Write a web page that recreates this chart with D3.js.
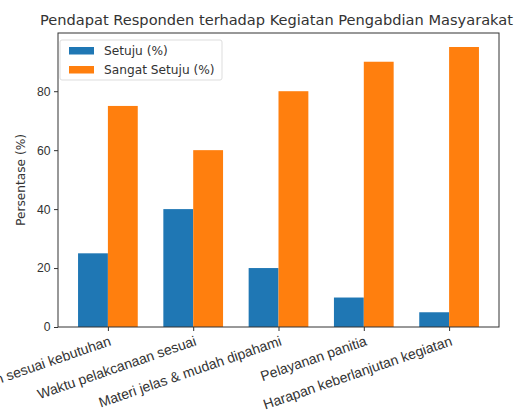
<!DOCTYPE html>
<html>
<head>
<meta charset="utf-8">
<script src="https://cdn.jsdelivr.net/npm/d3@7"></script>
<style>
  body { margin: 0; background: #fff; }
  svg { font-family: "DejaVu Sans", sans-serif; }
</style>
</head>
<body>
<svg id="chart" width="529" height="414"></svg>
<script>
// data
const categories = [
  "Kegiatan sesuai kebutuhan",
  "Waktu pelakcanaan sesuai",
  "Materi jelas & mudah dipahami",
  "Pelayanan panitia",
  "Harapan keberlanjutan kegiatan"
];
const setuju = [25, 40, 20, 10, 5];
const sangatSetuju = [75, 60, 80, 90, 95];
const seriesNames = ["Setuju (%)", "Sangat Setuju (%)"];
const yTicks = [0, 20, 40, 60, 80];

const colors = ["#1f77b4", "#ff7f0e"];
const svg = d3.select("#chart");

// axes box (pixels)
const axL = 58, axR = 499, axT = 33, axB = 327;
const barW = 0.35;

// linear x like matplotlib, with 5% margins
const xmin = -barW, xmax = categories.length - 1 + barW;
const pad = (xmax - xmin) * 0.05;
const x = d3.scaleLinear().domain([xmin - pad, xmax + pad]).range([axL, axR]);
const ymax = d3.max(sangatSetuju.concat(setuju)) * 1.05;
const y = d3.scaleLinear().domain([0, ymax]).range([axB, axT]);

const series = [setuju, sangatSetuju];
series.forEach((vals, s) => {
  const off = s === 0 ? -barW / 2 : barW / 2;
  svg.append("g").selectAll("rect")
    .data(vals)
    .enter().append("rect")
    .attr("x", (d, i) => x(i + off - barW / 2))
    .attr("width", (d, i) => x(i + off + barW / 2) - x(i + off - barW / 2))
    .attr("y", d => y(d))
    .attr("height", d => y(0) - y(d))
    .attr("fill", colors[s]);
});

// y axis
const yAxis = svg.append("g")
  .attr("transform", `translate(${axL},0)`)
  .call(d3.axisLeft(y).tickValues(yTicks).tickSize(4).tickPadding(3.5));
yAxis.select(".domain").remove();
yAxis.selectAll("text").attr("font-size", 12.2).attr("fill", "#333");
yAxis.selectAll("line").attr("stroke", "#333");

// x axis
const xAxis = svg.append("g")
  .attr("transform", `translate(0,${axB})`)
  .call(d3.axisBottom(x).tickValues(d3.range(categories.length))
    .tickFormat(i => categories[i]).tickSize(4).tickPadding(4));
xAxis.select(".domain").remove();
xAxis.selectAll("line").attr("stroke", "#333");
xAxis.selectAll("text")
  .attr("font-size", 14).attr("fill", "#333")
  .attr("text-anchor", "end")
  .attr("dy", "0.75em")
  .attr("transform", "rotate(-19, 0, 8)");

// frame
svg.append("rect")
  .attr("x", axL).attr("y", axT)
  .attr("width", axR - axL).attr("height", axB - axT)
  .attr("fill", "none").attr("stroke", "#333").attr("stroke-width", 1);

// title
svg.append("text")
  .attr("x", (axL + axR) / 2 - 2).attr("y", axT - 8)
  .attr("text-anchor", "middle")
  .attr("font-size", 14.6).attr("fill", "#333")
  .text("Pendapat Responden terhadap Kegiatan Pengabdian Masyarakat");

// y label
svg.append("text")
  .attr("transform", `translate(25,${(axT + axB) / 2}) rotate(-90)`)
  .attr("text-anchor", "middle")
  .attr("font-size", 12.2).attr("fill", "#333")
  .text("Persentase (%)");

// legend
const lg = svg.append("g").attr("transform", `translate(${axL + 2},${axT + 7})`);
lg.append("rect")
  .attr("width", 162).attr("height", 40).attr("rx", 2)
  .attr("fill", "#fff").attr("fill-opacity", 0.8)
  .attr("stroke", "#ddd");
seriesNames.forEach((n, i) => {
  lg.append("rect")
    .attr("x", 9).attr("y", 7 + i * 19)
    .attr("width", 25).attr("height", 7.5)
    .attr("fill", colors[i]);
  lg.append("text")
    .attr("x", 44).attr("y", 15 + i * 19)
    .attr("font-size", 12.2).attr("fill", "#333")
    .text(n);
});
</script>
</body>
</html>
